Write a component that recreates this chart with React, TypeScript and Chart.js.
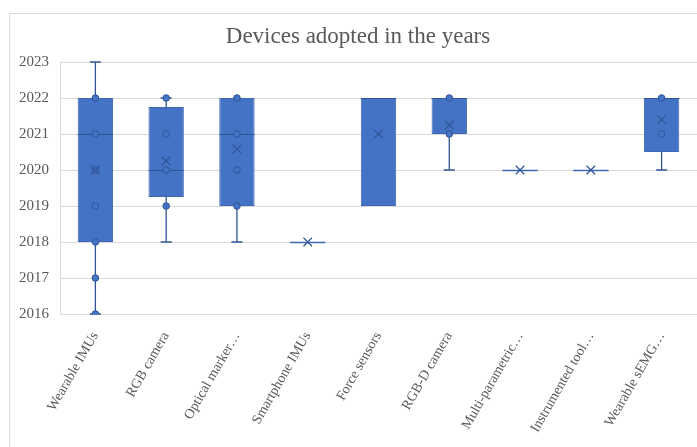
import React, { useEffect, useRef } from "react";
import { Chart, registerables } from "chart.js";
Chart.register(...registerables);

const categories = [
  "Wearable IMUs",
  "RGB camera",
  "Optical marker…",
  "Smartphone IMUs",
  "Force sensors",
  "RGB-D camera",
  "Multi-parametric…",
  "Instrumented tool…",
  "Wearable sEMG…",
];
const minValues = [2016, 2018, 2018, 2018, 2019, 2020, 2020, 2020, 2020];
const q1Values = [2018, 2019.25, 2019, 2018, 2019, 2021, 2020, 2020, 2020.5];
const medianValues = [2021, 2020, 2021, 2018, 2022, 2022, 2020, 2020, 2022];
const q3Values = [2022, 2021.75, 2022, 2018, 2022, 2022, 2020, 2020, 2022];
const maxValues = [2023, 2022, 2022, 2018, 2022, 2022, 2020, 2020, 2022];
const meanValues = [2020, 2020.25, 2020.58, 2018, 2021, 2021.25, 2020, 2020, 2021.4];
const pointCategoryIndex = [0, 0, 0, 0, 0, 0, 0, 1, 1, 1, 1, 2, 2, 2, 2, 5, 5, 8, 8];
const pointValues = [2016, 2017, 2018, 2019, 2020, 2021, 2022, 2019, 2020, 2021, 2022, 2019, 2020, 2021, 2022, 2021, 2022, 2021, 2022];
const yTicks = [2016, 2017, 2018, 2019, 2020, 2021, 2022, 2023];
const titleText = "Devices adopted in the years";

const BOX_FILL = "#4472C4";
const BOX_EDGE = "#3F68B5";
const DARK = "#2F5597";
const TEXT = "#595959";
const GRID = "#D9D9D9";
const SERIF = "'Liberation Serif', 'DejaVu Serif', serif";

export default function App() {
  const ref = useRef<HTMLCanvasElement | null>(null);
  useEffect(() => {
    document.body.style.margin = "0";
    const canvas = ref.current;
    if (!canvas) return;

    const boxPlugin = {
      id: "boxParts",
      beforeDraw(chart: any) {
        const ctx = chart.ctx;
        ctx.save();
        ctx.fillStyle = "#ffffff";
        ctx.fillRect(0, 0, chart.width, chart.height);
        ctx.strokeStyle = GRID;
        ctx.lineWidth = 1;
        ctx.strokeRect(9.5, 13.5, chart.width + 10, chart.height + 10);
        ctx.fillStyle = TEXT;
        ctx.font = `23px ${SERIF}`;
        ctx.textAlign = "center";
        ctx.textBaseline = "middle";
        ctx.fillText(titleText, 358, 37);
        ctx.restore();
      },
      beforeDatasetsDraw(chart: any) {
        const ctx = chart.ctx;
        const xs = chart.scales.x;
        const ys = chart.scales.y;
        ctx.save();
        ctx.strokeStyle = DARK;
        ctx.lineWidth = 1.3;
        categories.forEach((_, i) => {
          const x = xs.getPixelForValue(i);
          const capHalf = 5.5;
          if (maxValues[i] > q3Values[i]) {
            const y1 = ys.getPixelForValue(q3Values[i]);
            const y2 = ys.getPixelForValue(maxValues[i]);
            ctx.beginPath();
            ctx.moveTo(x, y1);
            ctx.lineTo(x, y2);
            ctx.moveTo(x - capHalf, y2);
            ctx.lineTo(x + capHalf, y2);
            ctx.stroke();
          }
          if (minValues[i] < q1Values[i]) {
            const y1 = ys.getPixelForValue(q1Values[i]);
            const y2 = ys.getPixelForValue(minValues[i]);
            ctx.beginPath();
            ctx.moveTo(x, y1);
            ctx.lineTo(x, y2);
            ctx.moveTo(x - capHalf, y2);
            ctx.lineTo(x + capHalf, y2);
            ctx.stroke();
          }
        });
        ctx.restore();
      },
      afterDatasetDraw(chart: any, args: any) {
        if (args.index !== 0) return;
        const ctx = chart.ctx;
        const xs = chart.scales.x;
        const ys = chart.scales.y;
        const band = xs.getPixelForValue(1) - xs.getPixelForValue(0);
        const half = band * 0.25;
        ctx.save();
        categories.forEach((_, i) => {
          const x = xs.getPixelForValue(i);
          if (q1Values[i] === q3Values[i]) {
            const y = Math.round(ys.getPixelForValue(q1Values[i])) + 0.5;
            ctx.strokeStyle = BOX_EDGE;
            ctx.lineWidth = 1.5;
            ctx.beginPath();
            ctx.moveTo(x - half, y);
            ctx.lineTo(x + half, y);
            ctx.stroke();
          } else {
            const y = Math.round(ys.getPixelForValue(medianValues[i])) + 0.5;
            ctx.strokeStyle = DARK;
            ctx.lineWidth = 1;
            ctx.beginPath();
            ctx.moveTo(x - half, y);
            ctx.lineTo(x + half, y);
            ctx.stroke();
          }
        });
        ctx.restore();
      },
    };

    const chart = new Chart(canvas, {
      type: "bar",
      data: {
        labels: categories,
        datasets: [
          {
            type: "bar",
            data: categories.map((_, i) =>
              q1Values[i] === q3Values[i] ? null : [q1Values[i], q3Values[i]]
            ) as any,
            backgroundColor: BOX_FILL,
            borderColor: BOX_EDGE,
            borderWidth: 1,
            borderSkipped: false,
            barPercentage: 0.5,
            categoryPercentage: 1,
            order: 3,
          },
          {
            type: "line",
            data: pointValues.map((v, k) => ({ x: categories[pointCategoryIndex[k]], y: v })) as any,
            showLine: false,
            pointStyle: "circle",
            pointRadius: 3.3,
            pointBackgroundColor: BOX_FILL,
            pointBorderColor: DARK,
            pointBorderWidth: 1,
            order: 2,
          },
          {
            type: "line",
            data: meanValues.map((v, i) => ({ x: categories[i], y: v })) as any,
            showLine: false,
            pointStyle: "crossRot",
            pointRadius: 6,
            pointBorderColor: DARK,
            pointBorderWidth: 1.2,
            order: 1,
          },
        ],
      },
      options: {
        animation: false,
        responsive: false,
        devicePixelRatio: 1,
        layout: { autoPadding: false, padding: { top: 62, left: 0, right: 0, bottom: 0 } },
        plugins: { legend: { display: false }, tooltip: { enabled: false }, title: { display: false } },
        scales: {
          x: {
            type: "category",
            offset: true,
            grid: { display: false },
            border: { display: false },
            ticks: {
              color: TEXT,
              font: { family: SERIF, size: 14 },
              minRotation: 60,
              maxRotation: 60,
              autoSkip: false,
              padding: 7,
            },
            afterFit(scale: any) {
              scale.height = 133;
              scale.paddingLeft = 0;
              scale.paddingRight = 0;
            },
          },
          y: {
            min: 2016,
            max: 2023,
            afterBuildTicks(scale: any) {
              scale.ticks = yTicks.map((v) => ({ value: v }));
            },
            grid: { color: GRID, drawTicks: false, lineWidth: 1 },
            border: { display: true, color: GRID },
            ticks: {
              color: TEXT,
              font: { family: SERIF, size: 15 },
              padding: 11,
              callback: (v: any) => String(v),
            },
            afterFit(scale: any) {
              scale.width = 60;
              scale.paddingTop = 0;
              scale.paddingBottom = 0;
            },
          },
        },
      },
      plugins: [boxPlugin],
    } as any);
    return () => chart.destroy();
  }, []);

  return (
    <div style={{ width: 697, height: 447 }}>
      <canvas ref={ref} width={697} height={447} style={{ display: "block" }} />
    </div>
  );
}
